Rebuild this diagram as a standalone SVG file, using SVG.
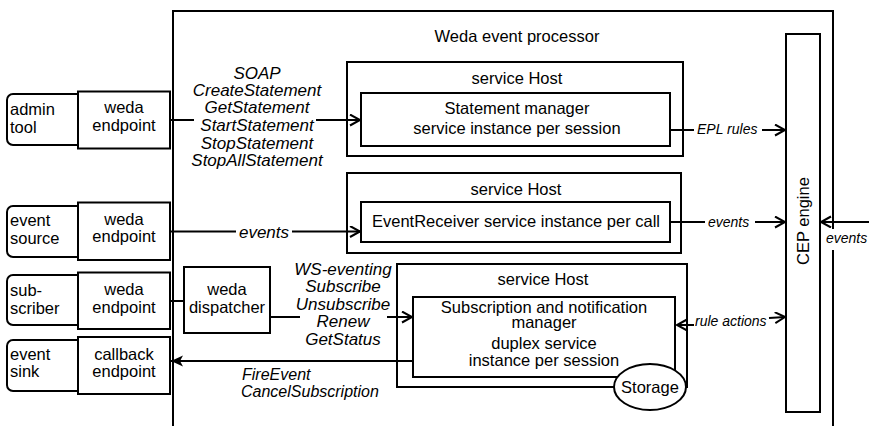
<svg xmlns="http://www.w3.org/2000/svg" width="869" height="426" viewBox="0 0 869 426">
<defs>
<marker id="arr" markerWidth="14" markerHeight="14" refX="11" refY="6" orient="auto" markerUnits="userSpaceOnUse"><path d="M1,0.5 L11,6 L1,11.5" fill="none" stroke="#000" stroke-width="2"/></marker>
<marker id="arrf" markerWidth="14" markerHeight="14" refX="12" refY="6" orient="auto" markerUnits="userSpaceOnUse"><path d="M0,0.5 L12,6 L0,11.5 L3,6 Z" fill="#000"/></marker>
<style>
.box{fill:#fff;stroke:#000;stroke-width:2}
.t{font-family:"Liberation Sans",Arial,sans-serif;font-size:16.5px;fill:#000}
.c{text-anchor:middle}
.i{font-style:italic;font-size:17px}
.s{font-style:italic;font-size:14px}
.ln{fill:none;stroke:#000;stroke-width:2}
</style>
</defs>
<rect x="0" y="0" width="869" height="426" fill="#fff"/>

<g id="weda-event-processor">
<rect class="box" x="173" y="11" width="660" height="440"/>
<text class="t c" x="517" y="42">Weda event processor</text>
</g>

<g id="admin-tool">
<rect class="box" x="7" y="94" width="80" height="51" rx="6"/>
<text class="t" x="10" y="115">admin</text>
<text class="t" x="10" y="133">tool</text>
</g>
<g id="weda-endpoint-1">
<rect class="box" x="78" y="91.5" width="92" height="57"/>
<text class="t c" x="124" y="113">weda</text>
<text class="t c" x="124" y="131">endpoint</text>
</g>

<g id="event-source">
<rect class="box" x="7" y="206" width="80" height="51" rx="6"/>
<text class="t" x="10" y="226">event</text>
<text class="t" x="10" y="243.5">source</text>
</g>
<g id="weda-endpoint-2">
<rect class="box" x="78" y="202.5" width="92" height="57.5"/>
<text class="t c" x="124" y="224.5">weda</text>
<text class="t c" x="124" y="242">endpoint</text>
</g>

<g id="subscriber">
<rect class="box" x="7" y="275" width="80" height="50" rx="6"/>
<text class="t" x="10" y="296">sub-</text>
<text class="t" x="10" y="313.5">scriber</text>
</g>
<g id="weda-endpoint-3">
<rect class="box" x="78" y="272.5" width="92" height="56.5"/>
<text class="t c" x="124" y="295">weda</text>
<text class="t c" x="124" y="312.5">endpoint</text>
</g>

<g id="event-sink">
<rect class="box" x="7" y="340" width="80" height="51" rx="6"/>
<text class="t" x="10" y="360">event</text>
<text class="t" x="10" y="377">sink</text>
</g>
<g id="callback-endpoint">
<rect class="box" x="78" y="337" width="92" height="57"/>
<text class="t c" x="124" y="360">callback</text>
<text class="t c" x="124" y="377">endpoint</text>
</g>

<g id="weda-dispatcher">
<rect class="box" x="184" y="267" width="86" height="66"/>
<text class="t c" x="227" y="295">weda</text>
<text class="t c" x="227" y="312.5">dispatcher</text>
</g>

<g id="service-host-1">
<rect class="box" x="347" y="62" width="336" height="94"/>
<text class="t c" x="517" y="84">service Host</text>
</g>
<g id="statement-manager">
<rect class="box" x="361" y="93" width="309" height="53"/>
<text class="t c" x="517" y="114">Statement manager</text>
<text class="t c" x="517" y="134">service instance per session</text>
</g>

<g id="service-host-2">
<rect class="box" x="347" y="173" width="334" height="80"/>
<text class="t c" x="516" y="195">service Host</text>
</g>
<g id="event-receiver">
<rect class="box" x="361" y="202" width="309" height="40"/>
<text class="t c" x="516" y="227">EventReceiver service instance per call</text>
</g>

<g id="service-host-3">
<rect class="box" x="397" y="264" width="290" height="123"/>
<text class="t c" x="543" y="285">service Host</text>
</g>
<g id="subscription-manager">
<rect class="box" x="413" y="297" width="262" height="80"/>
<text class="t c" x="544" y="313">Subscription and notification</text>
<text class="t c" x="544" y="327.5">manager</text>
<text class="t c" x="544" y="349">duplex service</text>
<text class="t c" x="544" y="366">instance per session</text>
</g>
<g id="storage">
<ellipse class="box" cx="650" cy="387" rx="36" ry="23"/>
<text class="t c" x="650" y="393">Storage</text>
</g>

<g id="cep-engine">
<rect class="box" x="786" y="34" width="34" height="378"/>
<text class="t c" transform="translate(809,221) rotate(-90)" x="0" y="0">CEP engine</text>
</g>

<g id="connectors">
<line class="ln" x1="170" y1="120" x2="194" y2="120"/>
<line class="ln" x1="316" y1="120" x2="360" y2="120" marker-end="url(#arr)"/>
<line class="ln" x1="170" y1="231.5" x2="236" y2="231.5"/>
<line class="ln" x1="292" y1="231.5" x2="360" y2="231.5" marker-end="url(#arr)"/>
<line class="ln" x1="170" y1="301" x2="184" y2="301"/>
<line class="ln" x1="270" y1="317" x2="300" y2="317"/>
<line class="ln" x1="387" y1="317" x2="412" y2="317" marker-end="url(#arr)"/>
<line class="ln" x1="413" y1="361" x2="171" y2="361" marker-end="url(#arrf)"/>
<line class="ln" x1="670" y1="130" x2="694" y2="130"/>
<line class="ln" x1="762" y1="130" x2="785" y2="130" marker-end="url(#arr)"/>
<line class="ln" x1="670" y1="222" x2="705" y2="222"/>
<line class="ln" x1="755" y1="222" x2="785" y2="222" marker-end="url(#arr)"/>
<line class="ln" x1="869" y1="222" x2="821" y2="222" marker-end="url(#arr)"/>
<line class="ln" x1="694" y1="325" x2="677" y2="325" marker-end="url(#arr)"/>
<line class="ln" x1="769" y1="318" x2="785" y2="317" marker-end="url(#arr)"/>
<rect x="824" y="229" width="45" height="21" fill="#fff"/>
<g class="t i c">
<text x="257" y="78.5">SOAP</text>
<text x="257" y="95.5">CreateStatement</text>
<text x="257" y="113">GetStatement</text>
<text x="257" y="131">StartStatement</text>
<text x="257" y="148.5">StopStatement</text>
<text x="257" y="166">StopAllStatement</text>
<text x="264" y="237.5">events</text>
<text x="343" y="275">WS-eventing</text>
<text x="343" y="292">Subscribe</text>
<text x="343" y="309.5">Unsubscribe</text>
<text x="343" y="327">Renew</text>
<text x="343" y="344.5">GetStatus</text>
</g>
<text class="t i" x="242" y="380" style="font-size:16px">FireEvent</text>
<text class="t i" x="241" y="397" style="font-size:16px">CancelSubscription</text>
<text class="t s" x="697" y="134">EPL rules</text>
<text class="t s" x="708" y="226.5">events</text>
<text class="t s" x="826" y="243">events</text>
<text class="t s" x="695" y="326">rule actions</text>
</g>
</svg>
